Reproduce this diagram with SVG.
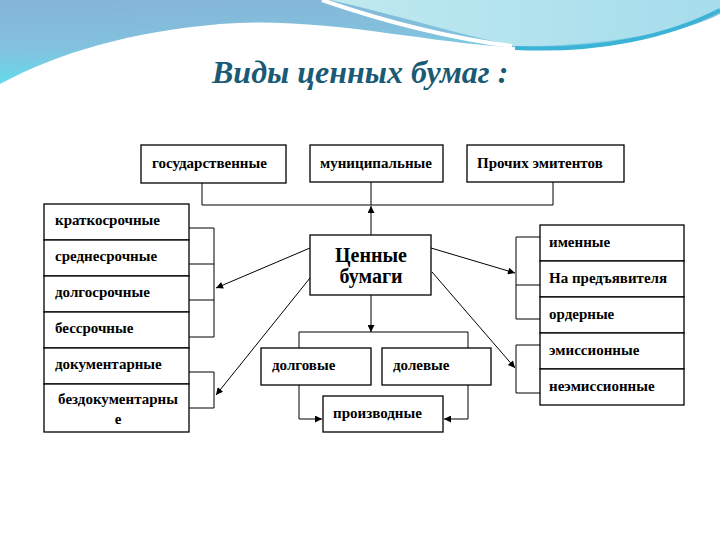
<svg xmlns="http://www.w3.org/2000/svg" width="720" height="540" viewBox="0 0 720 540">
<defs>
<linearGradient id="band" x1="0" y1="0" x2="0.3" y2="1">
<stop offset="0" stop-color="#86b4d6"/>
<stop offset="0.55" stop-color="#82c2de"/>
<stop offset="1" stop-color="#5ee0ee"/>
</linearGradient>
<linearGradient id="aqua" x1="0" y1="0" x2="1" y2="0">
<stop offset="0" stop-color="#bfeaef"/>
<stop offset="1" stop-color="#a6dcec"/>
</linearGradient>
<marker id="ah" viewBox="0 0 10 10" refX="10" refY="5" markerWidth="9" markerHeight="7" orient="auto" markerUnits="userSpaceOnUse">
<path d="M0,0 L10,5 L0,10 z" fill="#000"/>
</marker>
<style>
.box{fill:#fff;stroke:#000;stroke-width:1.3}
.t{font-family:'Liberation Serif','Times New Roman',serif;font-weight:bold;font-size:15px;fill:#000}
.big{font-size:20px}
.title{font-family:'Liberation Serif','Times New Roman',serif;font-weight:bold;font-style:italic;font-size:32px;fill:#1b5a74}
.c{stroke:#000;stroke-width:1;fill:none}
.a{stroke:#000;stroke-width:1;fill:none;marker-end:url(#ah)}
</style>
</defs>
<rect width="720" height="540" fill="#fff"/>
<g id="decor">
<path d="M0,0 H720 V14 C680,34 600,50 510,47 C420,42 320,16 220,24 C130,32 60,52 0,84 Z" fill="url(#band)"/>
<path d="M330,0 H720 V12 C680,32 600,47 515,46 C450,32 385,12 330,0 Z" fill="url(#aqua)"/>
<path d="M322,0 C380,20 450,38 512,46" stroke="#fff" stroke-width="4" fill="none"/>
<path d="M515,48 C600,52 670,36 720,10" stroke="#3cb2d6" stroke-width="4" fill="none"/>
</g>
<text id="title" class="title" x="212" y="83">Виды ценных бумаг :</text>
<g id="connectors">
<path class="a" d="M371,235 V206"/>
<path class="c" d="M202,183 V205 H553 V182 M371,182 V205"/>
<path class="c" d="M189,228 H214 V337 H189 M189,264 H214 M189,300 H214"/>
<path class="c" d="M189,372 H214 V408 H189"/>
<path class="c" d="M540,237 H516 V319 H540 M516,285 H540"/>
<path class="c" d="M540,345 H516 V393 H540"/>
<path class="a" d="M310,248 L216,288"/>
<path class="a" d="M310,278 L216,395"/>
<path class="a" d="M431,248 L515,273"/>
<path class="a" d="M432,272 L515,368"/>
<path class="a" d="M371,295 V332"/>
<path class="c" d="M299,348 V332 H468 V348"/>
<path class="a" d="M299,385 V419 H322"/>
<path class="a" d="M468,385 V419 H444"/>
</g>
<g id="gos"><rect class="box" x="141" y="145" width="145" height="38"/><text class="t" x="152" y="168">государственные</text></g>
<g id="mun"><rect class="box" x="310" y="145" width="133" height="37"/><text class="t" x="320" y="168">муниципальные</text></g>
<g id="proch"><rect class="box" x="467" y="145" width="157" height="37"/><text class="t" x="477" y="168">Прочих эмитентов</text></g>
<g id="left-list">
<rect class="box" x="44" y="204" width="145" height="36"/><text class="t" x="55" y="225">краткосрочные</text>
<rect class="box" x="44" y="240" width="145" height="36"/><text class="t" x="55" y="261">среднесрочные</text>
<rect class="box" x="44" y="276" width="145" height="36"/><text class="t" x="55" y="297">долгосрочные</text>
<rect class="box" x="44" y="312" width="145" height="36"/><text class="t" x="55" y="333">бессрочные</text>
<rect class="box" x="44" y="348" width="145" height="36"/><text class="t" x="55" y="369">документарные</text>
<rect class="box" x="44" y="384" width="145" height="48"/><text class="t" x="118" y="404" text-anchor="middle">бездокументарны</text><text class="t" x="118" y="424" text-anchor="middle">е</text>
</g>
<g id="center"><rect class="box" x="310" y="235" width="121" height="60"/>
<text class="t big" x="371" y="262" text-anchor="middle">Ценные</text>
<text class="t big" x="371" y="283" text-anchor="middle">бумаги</text></g>
<g id="right-list">
<rect class="box" x="540" y="225" width="144" height="36"/><text class="t" x="549" y="247">именные</text>
<rect class="box" x="540" y="261" width="144" height="36"/><text class="t" x="549" y="283">На предъявителя</text>
<rect class="box" x="540" y="297" width="144" height="36"/><text class="t" x="549" y="319">ордерные</text>
<rect class="box" x="540" y="333" width="144" height="36"/><text class="t" x="549" y="355">эмиссионные</text>
<rect class="box" x="540" y="369" width="144" height="36"/><text class="t" x="549" y="391">неэмиссионные</text>
</g>
<g id="dolg"><rect class="box" x="261" y="348" width="110" height="37"/><text class="t" x="272" y="370">долговые</text></g>
<g id="dolev"><rect class="box" x="382" y="348" width="109" height="37"/><text class="t" x="393" y="370">долевые</text></g>
<g id="proizv"><rect class="box" x="323" y="396" width="120" height="36"/><text class="t" x="333" y="418">производные</text></g>
</svg>
